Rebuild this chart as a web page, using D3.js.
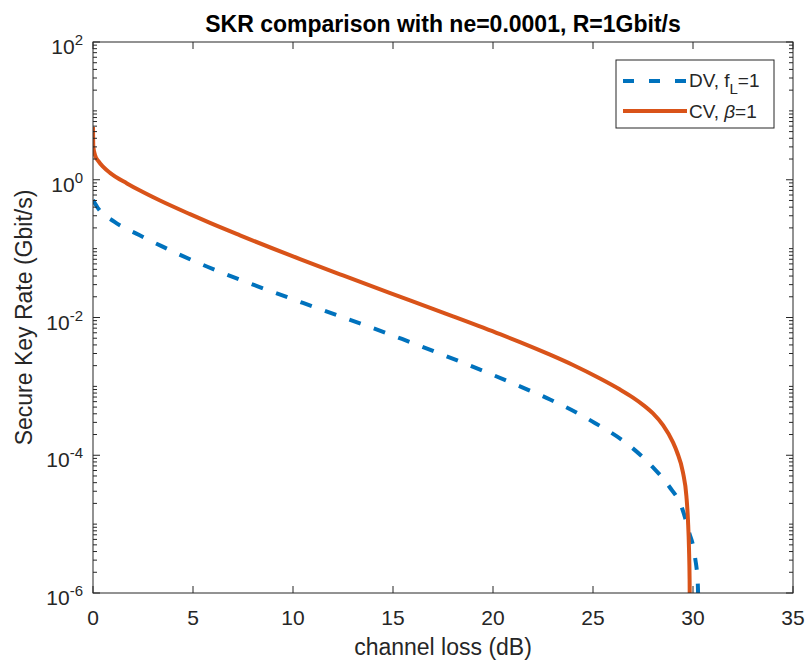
<!DOCTYPE html>
<html>
<head>
<meta charset="utf-8">
<script src="https://cdn.jsdelivr.net/npm/d3@7"></script>
<style>
  html, body { margin: 0; padding: 0; background: #fff; }
  svg { display: block; font-family: "Liberation Sans", Arial, Helvetica, sans-serif; }
</style>
</head>
<body>
<svg id="chart" width="806" height="661"></svg>
<script>
// ---- Data ----
const titleText = "SKR comparison with ne=0.0001, R=1Gbit/s";
const xLabel = "channel loss (dB)";
const yLabel = "Secure Key Rate (Gbit/s)";
const xTicks = [0, 5, 10, 15, 20, 25, 30, 35];
const yTickExponents = [-6, -4, -2, 0, 2];

// DV, f_L = 1 (log10 of SKR in Gbit/s)
const dvLoss = [0, 0.225, 1.06, 2.31, 3.43, 5.75, 8.2, 10.5, 15.45, 21.35, 22.85, 24.85, 26.95, 27.95, 28.8, 29.45, 29.8, 30.1, 30.24, 30.3];
const dvLog  = [-0.294, -0.403, -0.609, -0.802, -0.964, -1.267, -1.543, -1.789, -2.312, -3.0, -3.19, -3.49, -3.89, -4.16, -4.45, -4.766, -5.114, -5.477, -5.87, -7];

// CV, beta = 1
const cvLoss = [0, 0.015, 0.1, 0.27, 0.5, 0.85, 1.7, 2.35, 3.35, 4.85, 5.85, 7.35, 10.35, 12.5, 15.85, 18, 20.35, 21.35, 22.85, 24, 25.35, 26.35, 27.0, 27.5, 28.0, 28.5, 29.0, 29.2, 29.5, 29.67, 29.75, 29.8, 29.83, 29.86];
const cvLog  = [0.766, 0.48, 0.36, 0.27, 0.19, 0.10, -0.053, -0.157, -0.302, -0.50, -0.627, -0.807, -1.152, -1.389, -1.751, -1.983, -2.242, -2.357, -2.54, -2.69, -2.886, -3.046, -3.163, -3.268, -3.393, -3.563, -3.813, -3.953, -4.253, -4.593, -4.953, -5.353, -5.8, -7];

const seriesNames = ["DV", "CV"];
const colors = ["#0072BD", "#D95319"];

// ---- Layout ----
const svg = d3.select("#chart");
const mLeft = 93, mRight = 793, mTop = 42, mBottom = 593;
const x = d3.scaleLinear().domain([0, 35]).range([mLeft, mRight]);
const y = d3.scaleLog().domain([1e-6, 1e2]).range([mBottom, mTop]);
const axisColor = "#262626";
const tickFont = 21, labelFont = 23, legendFont = 19;

svg.append("defs").append("clipPath").attr("id", "clip")
  .append("rect").attr("x", mLeft).attr("y", mTop).attr("width", mRight - mLeft).attr("height", mBottom - mTop);

// Curves
const dvData = dvLoss.map((d, i) => [d, Math.pow(10, dvLog[i])]);
const cvData = cvLoss.map((d, i) => [d, Math.pow(10, cvLog[i])]);
const line = d3.line().x(d => x(d[0])).y(d => y(d[1])).curve(d3.curveMonotoneX);
const g = svg.append("g").attr("clip-path", "url(#clip)");
g.append("path").datum(dvData).attr("d", line)
  .attr("fill", "none").attr("stroke", colors[0]).attr("stroke-width", 4)
  .attr("stroke-dasharray", "12,14");
g.append("path").datum(cvData).attr("d", line)
  .attr("fill", "none").attr("stroke", colors[1]).attr("stroke-width", 4);

// Axes (MATLAB style box with inward ticks)
const ax = svg.append("g").attr("stroke", axisColor).attr("stroke-width", 1);
ax.append("rect").attr("x", mLeft).attr("y", mTop).attr("width", mRight - mLeft).attr("height", mBottom - mTop)
  .attr("fill", "none");

const majorLen = 7, minorLen = 4;
xTicks.forEach(t => {
  const px = x(t);
  ax.append("line").attr("x1", px).attr("x2", px).attr("y1", mBottom).attr("y2", mBottom - majorLen);
  ax.append("line").attr("x1", px).attr("x2", px).attr("y1", mTop).attr("y2", mTop + majorLen);
});
for (let e = -6; e < 2; e++) {
  for (let k = 1; k <= 9; k++) {
    const v = k * Math.pow(10, e);
    if (k === 1 && yTickExponents.includes(e)) continue;
    const py = y(v);
    ax.append("line").attr("x1", mLeft).attr("x2", mLeft + minorLen).attr("y1", py).attr("y2", py);
    ax.append("line").attr("x1", mRight).attr("x2", mRight - minorLen).attr("y1", py).attr("y2", py);
  }
}
yTickExponents.forEach(e => {
  const py = y(Math.pow(10, e));
  ax.append("line").attr("x1", mLeft).attr("x2", mLeft + majorLen).attr("y1", py).attr("y2", py);
  ax.append("line").attr("x1", mRight).attr("x2", mRight - majorLen).attr("y1", py).attr("y2", py);
});

// Tick labels
xTicks.forEach(t => {
  svg.append("text").attr("x", x(t)).attr("y", mBottom + 32)
    .attr("text-anchor", "middle").attr("font-size", tickFont).attr("fill", axisColor).text(t);
});
yTickExponents.forEach(e => {
  const py = y(Math.pow(10, e));
  const txt = svg.append("text").attr("x", mLeft - 10).attr("y", py + 12)
    .attr("text-anchor", "end").attr("font-size", tickFont).attr("fill", axisColor);
  txt.append("tspan").text("10");
  txt.append("tspan").attr("font-size", 15).attr("dy", -9).text(String(e));
});

// Axis labels and title
svg.append("text").attr("x", (mLeft + mRight) / 2).attr("y", 655)
  .attr("text-anchor", "middle").attr("font-size", labelFont).attr("fill", axisColor).text(xLabel);
svg.append("text").attr("transform", `translate(32, ${(mTop + mBottom) / 2}) rotate(-90)`)
  .attr("text-anchor", "middle").attr("font-size", labelFont).attr("fill", axisColor).text(yLabel);
svg.append("text").attr("x", (mLeft + mRight) / 2).attr("y", 32)
  .attr("text-anchor", "middle").attr("font-size", labelFont).attr("font-weight", "bold").attr("fill", "#000").text(titleText);

// Legend
const lg = svg.append("g");
lg.append("rect").attr("x", 616).attr("y", 60).attr("width", 158).attr("height", 68)
  .attr("fill", "#fff").attr("stroke", axisColor).attr("stroke-width", 1);
lg.append("line").attr("x1", 623).attr("x2", 687).attr("y1", 81).attr("y2", 81)
  .attr("stroke", colors[0]).attr("stroke-width", 4).attr("stroke-dasharray", "11,15");
lg.append("line").attr("x1", 623).attr("x2", 687).attr("y1", 111).attr("y2", 111)
  .attr("stroke", colors[1]).attr("stroke-width", 4);
const t1 = lg.append("text").attr("x", 689).attr("y", 87).attr("font-size", legendFont).attr("fill", axisColor);
t1.append("tspan").text(seriesNames[0] + ", f");
t1.append("tspan").attr("font-size", 15).attr("dy", 7).text("L");
t1.append("tspan").attr("dy", -7).text("=1");
const t2 = lg.append("text").attr("x", 689).attr("y", 118).attr("font-size", legendFont).attr("fill", axisColor);
t2.append("tspan").text(seriesNames[1] + ", ");
t2.append("tspan").attr("font-style", "italic").text("β");
t2.append("tspan").text("=1");
</script>
</body>
</html>
